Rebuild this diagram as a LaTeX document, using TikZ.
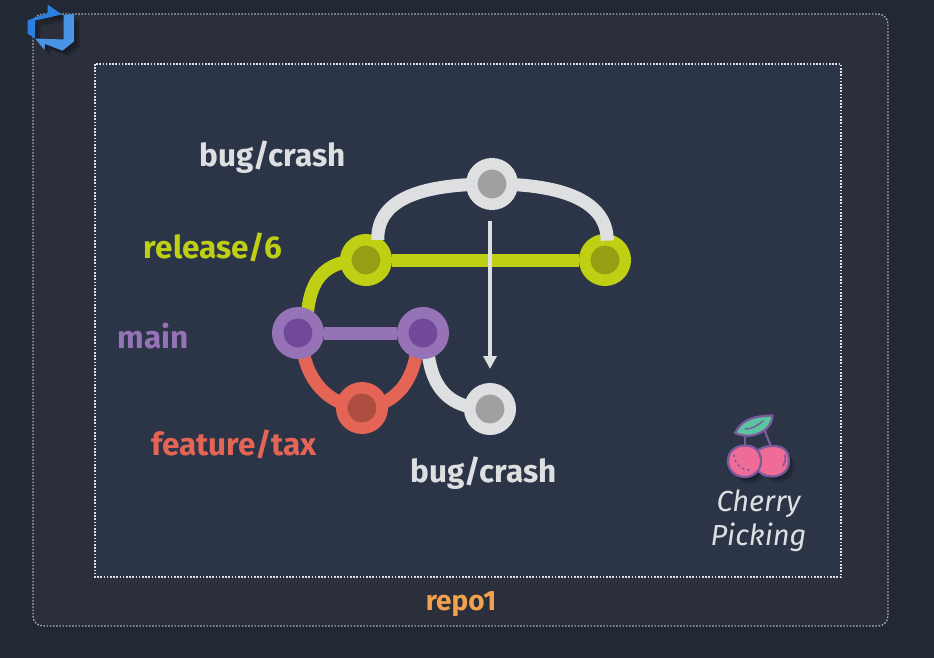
\documentclass[tikz,border=0pt]{standalone}
\usepackage{fontspec}
\setmainfont{Fira Sans}
\usetikzlibrary{arrows.meta}
\definecolor{bgout}{HTML}{232835}
\definecolor{bgmid}{HTML}{2A2F3B}
\definecolor{bgin}{HTML}{2C3547}
\definecolor{wring}{HTML}{DDDFE1}
\definecolor{winner}{HTML}{A0A0A2}
\definecolor{gring}{HTML}{BFD014}
\definecolor{ginner}{HTML}{959F14}
\definecolor{pring}{HTML}{9672B6}
\definecolor{pinner}{HTML}{72489A}
\definecolor{rring}{HTML}{E46555}
\definecolor{rinner}{HTML}{AE4E40}
\definecolor{orangetxt}{HTML}{F2A24E}
\definecolor{cherrypink}{HTML}{EE6C96}
\definecolor{cherryedge}{HTML}{7B5A9B}
\definecolor{leafgreen}{HTML}{5CC4A0}
\definecolor{logoblue}{HTML}{2A80E0}
\pgfdeclarelayer{edges}
\pgfdeclarelayer{top}
\pgfsetlayers{edges,main,top}
\newcommand{\logoTop}{(47.7,4.7) -- (62,14.5) -- (35,20.5) -- (35,38.5) -- (27.5,33.5) -- (27.5,20.5) -- (47.7,13) -- cycle}
\newcommand{\logoBot}{(74,14) -- (74,41.5) -- (62.5,50.7) -- (45,44) -- (44.5,50) -- (35,38.5) -- (63.5,39.5) -- (63.5,15) -- cycle}
\tikzset{
  commit/.style={circle,inner sep=0pt,minimum size=40.5pt,line width=11.5pt},
  whitec/.style={commit,draw=wring,fill=winner},
  greenc/.style={commit,draw=gring,fill=ginner},
  purplec/.style={commit,draw=pring,fill=pinner},
  redc/.style={commit,draw=rring,fill=rinner},
  branch/.style={line width=13pt},
  lab/.style={font=\fontsize{31.5}{36}\selectfont\bfseries,inner sep=0pt},
  frame/.style={dash pattern=on 1.6pt off 1.6pt,rounded corners=#1},
}
\begin{document}
\begin{tikzpicture}[x=1pt,y=-1pt]
\useasboundingbox (0,0) rectangle (934,658);
\begin{pgfonlayer}{edges}
\fill[bgout] (0,0) rectangle (934,658);
\fill[bgmid,rounded corners=10pt] (33,14) rectangle (888,626);
\draw[frame=10pt,draw=white!60!bgmid,line width=1.3pt] (33,14) rectangle (888,626);
\fill[bgin] (95,64) rectangle (841,577);
\draw[frame=0pt,draw=white!85!bgin,line width=1.3pt] (95,64) rectangle (841,577);
\end{pgfonlayer}

% commits
\begin{pgfonlayer}{top}
\node[whitec] (w1) at (492,184) {};
\end{pgfonlayer}
\node[greenc] (g1) at (366,260) {};
\node[greenc] (g2) at (605,260) {};
\node[purplec] (p1) at (298,333) {};
\node[purplec] (p2) at (423,333) {};
\node[redc] (r1) at (362,408) {};
\node[whitec] (w2) at (490,409) {};

% branch lines underneath commits
\begin{pgfonlayer}{edges}
\draw[branch,gring] (g1) -- (g2);
\draw[branch,gring] (g1.center) .. controls (322,260) and (306.5,280) .. ([xshift=8.5pt]p1.center);
\draw[branch,pring] (p1) -- (p2);
\draw[branch,rring] ([xshift=3.5pt]p1.center) .. controls (301.5,375) and (325,405) .. (r1.center);
\draw[branch,rring] ([xshift=-5pt]p2.center) .. controls (418,375) and (400,405) .. (r1.center);
\draw[branch,wring] ([xshift=4pt]p2.center) .. controls (427,380) and (442,409) .. (w2.center);
\end{pgfonlayer}

% white branch drawn over the green commits
\draw[branch,wring] ([yshift=-3pt]g1.63) .. controls (377,202) and (415,184) .. (w1.center);
\draw[branch,wring] ([yshift=-6.5pt]g2.85) .. controls (607,202) and (565,184) .. (w1.center);

% cherry-pick arrow
\coordinate (as) at (490,221);
\coordinate (ae) at (490,369);
\draw[wring,line width=3.5pt,-{Triangle[length=13pt,width=13pt]}] (as) -- (ae);

% labels
\node[lab,text=wring] (t1) at (272.5,157) {bug/crash};
\node[lab,text=gring] (t2) at (213,247) {release/6};
\node[lab,text=pring] (t3) at (153,336) {main};
\node[lab,text=rring] (t4) at (234,444.5) {feature/tax};
\node[lab,text=wring] (t5) at (483.5,473) {bug/crash};
\node[font=\fontsize{28}{32}\selectfont\bfseries,text=orangetxt,inner sep=0pt] (t6) at (461,604) {repo1};
\node[font=\fontsize{29}{33.5}\selectfont\itshape,text=wring,align=center,inner sep=0pt] (t7) at (758.5,521) {Cherry\\Picking};

% logo
\foreach \d in {1.5,3,4.5,6}{
  \fill[black,opacity=.12,shift={(\d,\d)}] \logoTop;
  \fill[black,opacity=.12,shift={(\d,\d)}] \logoBot;
}
\fill[logoblue] \logoTop;
\fill[logoblue!85!white] \logoBot;

% cherry
\foreach \d in {1.5,3,4.5,6}{
  \fill[black,opacity=.1] (745+\d,461+\d) circle (17) (773+\d,461+\d) circle (16);
}
\draw[cherryedge,line width=2.2pt,line cap=round] (745,437) -- (745,449);
\draw[cherryedge,line width=2.2pt,line cap=round] (765,431) .. controls (767,438) and (770,443) .. (772,449);
\draw[cherryedge,line width=2.2pt,fill=leafgreen,line join=round] (735,433) .. controls (742,420) and (752,416) .. (772.5,415.5) .. controls (772,426) and (764,433) .. (752,435.5) .. controls (746,436.5) and (740,435) .. (735,433) -- cycle;
\draw[cherryedge,line width=2.2pt,fill=cherrypink] (773.5,446) .. controls (785,446) and (789,453) .. (789,461) .. controls (789,471) and (781,476.5) .. (772,476.5) .. controls (765,476.5) and (760,474) .. (756,468) -- (756,452) .. controls (761,447) and (767,446) .. (773.5,446) -- cycle;
\draw[cherryedge,line width=2.2pt,fill=cherrypink] (745,445.5) .. controls (755,445.5) and (761,452) .. (761,461) .. controls (761,470) and (754,477) .. (745,477) .. controls (735,477) and (728,470) .. (728,461) .. controls (728,452) and (735,445.5) .. (745,445.5) -- cycle;
\draw[cherryedge,line width=1.6pt,line cap=round] (785,455) .. controls (786,460) and (785,463) .. (783,466);
\draw[cherryedge,line width=1.6pt,line cap=round,dash pattern=on 1.5pt off 4pt] (734,455) .. controls (735,464) and (741,470) .. (749,470);
\draw[cherryedge,line width=1.4pt,line cap=round] (745,429) .. controls (752,429) and (757,426) .. (763,421);
\end{tikzpicture}
\end{document}
